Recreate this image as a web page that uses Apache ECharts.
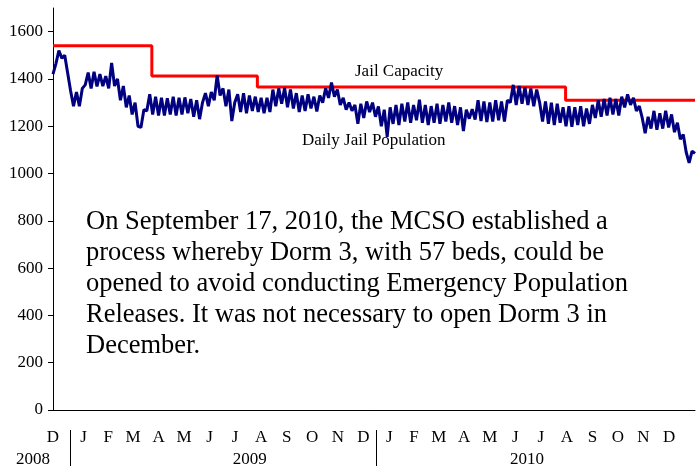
<!DOCTYPE html>
<html>
<head>
<meta charset="utf-8">
<script src="https://cdn.jsdelivr.net/npm/echarts@6/dist/echarts.min.js"></script>
<style>
html, body { margin: 0; padding: 0; background: #fff; }
#chart { width: 700px; height: 468px; }
</style>
</head>
<body>
<div id="chart"></div>
<script>
// x values are days counted from Dec 1, 2008
const xMin = 10
const xMax = 776.5

// daily population, sampled every 3.5 days from day 10
const popStartDay = 10
const popStepDays = 3.5
const popValues = [
  1420, 1465, 1520, 1488, 1500, 1425, 1350, 1285, 1345, 1285,
  1360, 1375, 1427, 1360, 1430, 1368, 1420, 1370, 1412, 1360,
  1468, 1370, 1400, 1310, 1370, 1280, 1330, 1250, 1300, 1200,
  1195, 1270, 1265, 1335, 1250, 1325, 1245, 1320, 1245, 1318,
  1250, 1325, 1245, 1320, 1250, 1322, 1255, 1315, 1240, 1310,
  1230, 1300, 1340, 1285, 1345, 1310, 1415, 1330, 1360, 1285,
  1355, 1222, 1300, 1335, 1260, 1340, 1255, 1330, 1265, 1325,
  1260, 1320, 1255, 1320, 1260, 1355, 1285, 1360, 1295, 1362,
  1280, 1355, 1275, 1340, 1260, 1330, 1265, 1335, 1275, 1325,
  1262, 1330, 1300, 1360, 1320, 1385, 1325, 1355, 1290, 1320,
  1270, 1300, 1265, 1290, 1210, 1295, 1235, 1305, 1260, 1300,
  1240, 1284, 1200, 1270, 1155, 1280, 1210, 1290, 1205, 1295,
  1220, 1300, 1215, 1290, 1225, 1312, 1215, 1290, 1205, 1285,
  1215, 1295, 1210, 1290, 1220, 1300, 1215, 1285, 1205, 1280,
  1180, 1270, 1232, 1272, 1228, 1310, 1222, 1305, 1218, 1300,
  1220, 1310, 1225, 1305, 1220, 1310, 1300, 1375, 1290, 1370,
  1295, 1365, 1290, 1360, 1285, 1355, 1300, 1220, 1305, 1210,
  1300, 1205, 1295, 1215, 1280, 1200, 1285, 1198, 1280, 1205,
  1285, 1200, 1275, 1210, 1290, 1235, 1310, 1240, 1315, 1245,
  1320, 1250, 1315, 1245, 1325, 1280, 1335, 1290, 1320, 1265,
  1285, 1235, 1170, 1240, 1190, 1265, 1185, 1255, 1190, 1265,
  1195, 1250, 1175, 1215, 1145, 1165, 1090, 1045, 1095, 1085
]

// jail capacity: level starting at each change day
const capDays = [10, 128, 254, 622]
const capLevels = [1540, 1412, 1366, 1310]

const yTicks = [0, 200, 400, 600, 800, 1000, 1200, 1400, 1600]

const monthLetters = ['D', 'J', 'F', 'M', 'A', 'M', 'J', 'J', 'A', 'S', 'O', 'N',
  'D', 'J', 'F', 'M', 'A', 'M', 'J', 'J', 'A', 'S', 'O', 'N', 'D']
const monthStartDays = [0, 31, 62, 90, 121, 151, 182, 212, 243, 274, 304, 335,
  365, 396, 427, 455, 486, 516, 547, 577, 608, 639, 669, 700, 730, 761]

const yearLabels = ['2008', '2009', '2010']
const yearLabelDays = [10, 245, 576]
const yearBreakDays = [31, 396]

const noteLines = [
  'On September 17, 2010, the MCSO established a',
  'process whereby Dorm 3, with 57 beds, could be',
  'opened to avoid conducting Emergency Population',
  'Releases. It was not necessary to open Dorm 3 in',
  'December.'
]

const FONT = "'Liberation Serif', 'Times New Roman', serif"

const popData = popValues.map((v, i) => [popStartDay + i * popStepDays, v])
const capData = capDays.map((d, i) => [d, capLevels[i]])
capData.push([xMax, capLevels[capLevels.length - 1]])

// month label positions: middle of each month, first one at the visible start
const monthMid = monthLetters.map((m, i) => (monthStartDays[i] + monthStartDays[i + 1]) / 2)
monthMid[0] = xMin

const chart = echarts.init(document.getElementById('chart'))
chart.setOption({
  animation: false,
  grid: { left: 53, right: 5, top: 8, bottom: 55 },
  xAxis: [{
    type: 'value',
    min: xMin,
    max: xMax,
    position: 'bottom',
    axisLine: { lineStyle: { color: '#000', width: 1 } },
    axisTick: { show: false },
    splitLine: { show: false },
    axisLabel: {
      customValues: monthMid,
      formatter: (v) => monthLetters[monthMid.indexOf(v)],
      margin: 19,
      color: '#000',
      fontFamily: FONT,
      fontSize: 17
    }
  }, {
    type: 'value',
    min: xMin,
    max: xMax,
    position: 'bottom',
    offset: 20,
    axisLine: { show: false },
    splitLine: { show: false },
    axisTick: {
      show: true,
      customValues: yearBreakDays,
      length: 36,
      lineStyle: { color: '#000', width: 1 }
    },
    axisLabel: {
      customValues: yearLabelDays,
      formatter: (v) => {
        const i = yearLabelDays.indexOf(v)
        return i === 0 ? '{l|' + yearLabels[i] + '}' : yearLabels[i]
      },
      margin: 21,
      color: '#000',
      fontFamily: FONT,
      fontSize: 17,
      rich: {
        l: { padding: [0, 40, 0, 0], fontFamily: FONT, fontSize: 17, color: '#000' }
      }
    }
  }],
  yAxis: {
    type: 'value',
    min: 0,
    max: 1700,
    axisLine: { show: true, lineStyle: { color: '#000', width: 1 } },
    axisTick: { show: true, customValues: yTicks, length: 5, lineStyle: { color: '#000' } },
    splitLine: { show: false },
    axisLabel: {
      customValues: yTicks,
      formatter: (v) => String(v),
      margin: 10,
      color: '#000',
      fontFamily: FONT,
      fontSize: 17
    }
  },
  series: [{
    name: 'Jail Capacity',
    type: 'line',
    step: 'end',
    data: capData,
    symbol: 'none',
    lineStyle: { color: '#ff0000', width: 3 }
  }, {
    name: 'Daily Jail Population',
    type: 'line',
    data: popData,
    symbol: 'none',
    lineStyle: { color: '#000080', width: 3 }
  }],
  graphic: [{
    type: 'text',
    left: 355,
    top: 63,
    style: { text: 'Jail Capacity', font: '17px ' + FONT, fill: '#000' }
  }, {
    type: 'text',
    left: 302,
    top: 132,
    style: { text: 'Daily Jail Population', font: '17px ' + FONT, fill: '#000' }
  }, {
    type: 'text',
    left: 86,
    top: 207,
    style: {
      text: noteLines.join('\n'),
      font: '26.5px ' + FONT,
      lineHeight: 31,
      fill: '#000'
    }
  }]
})
</script>
</body>
</html>
